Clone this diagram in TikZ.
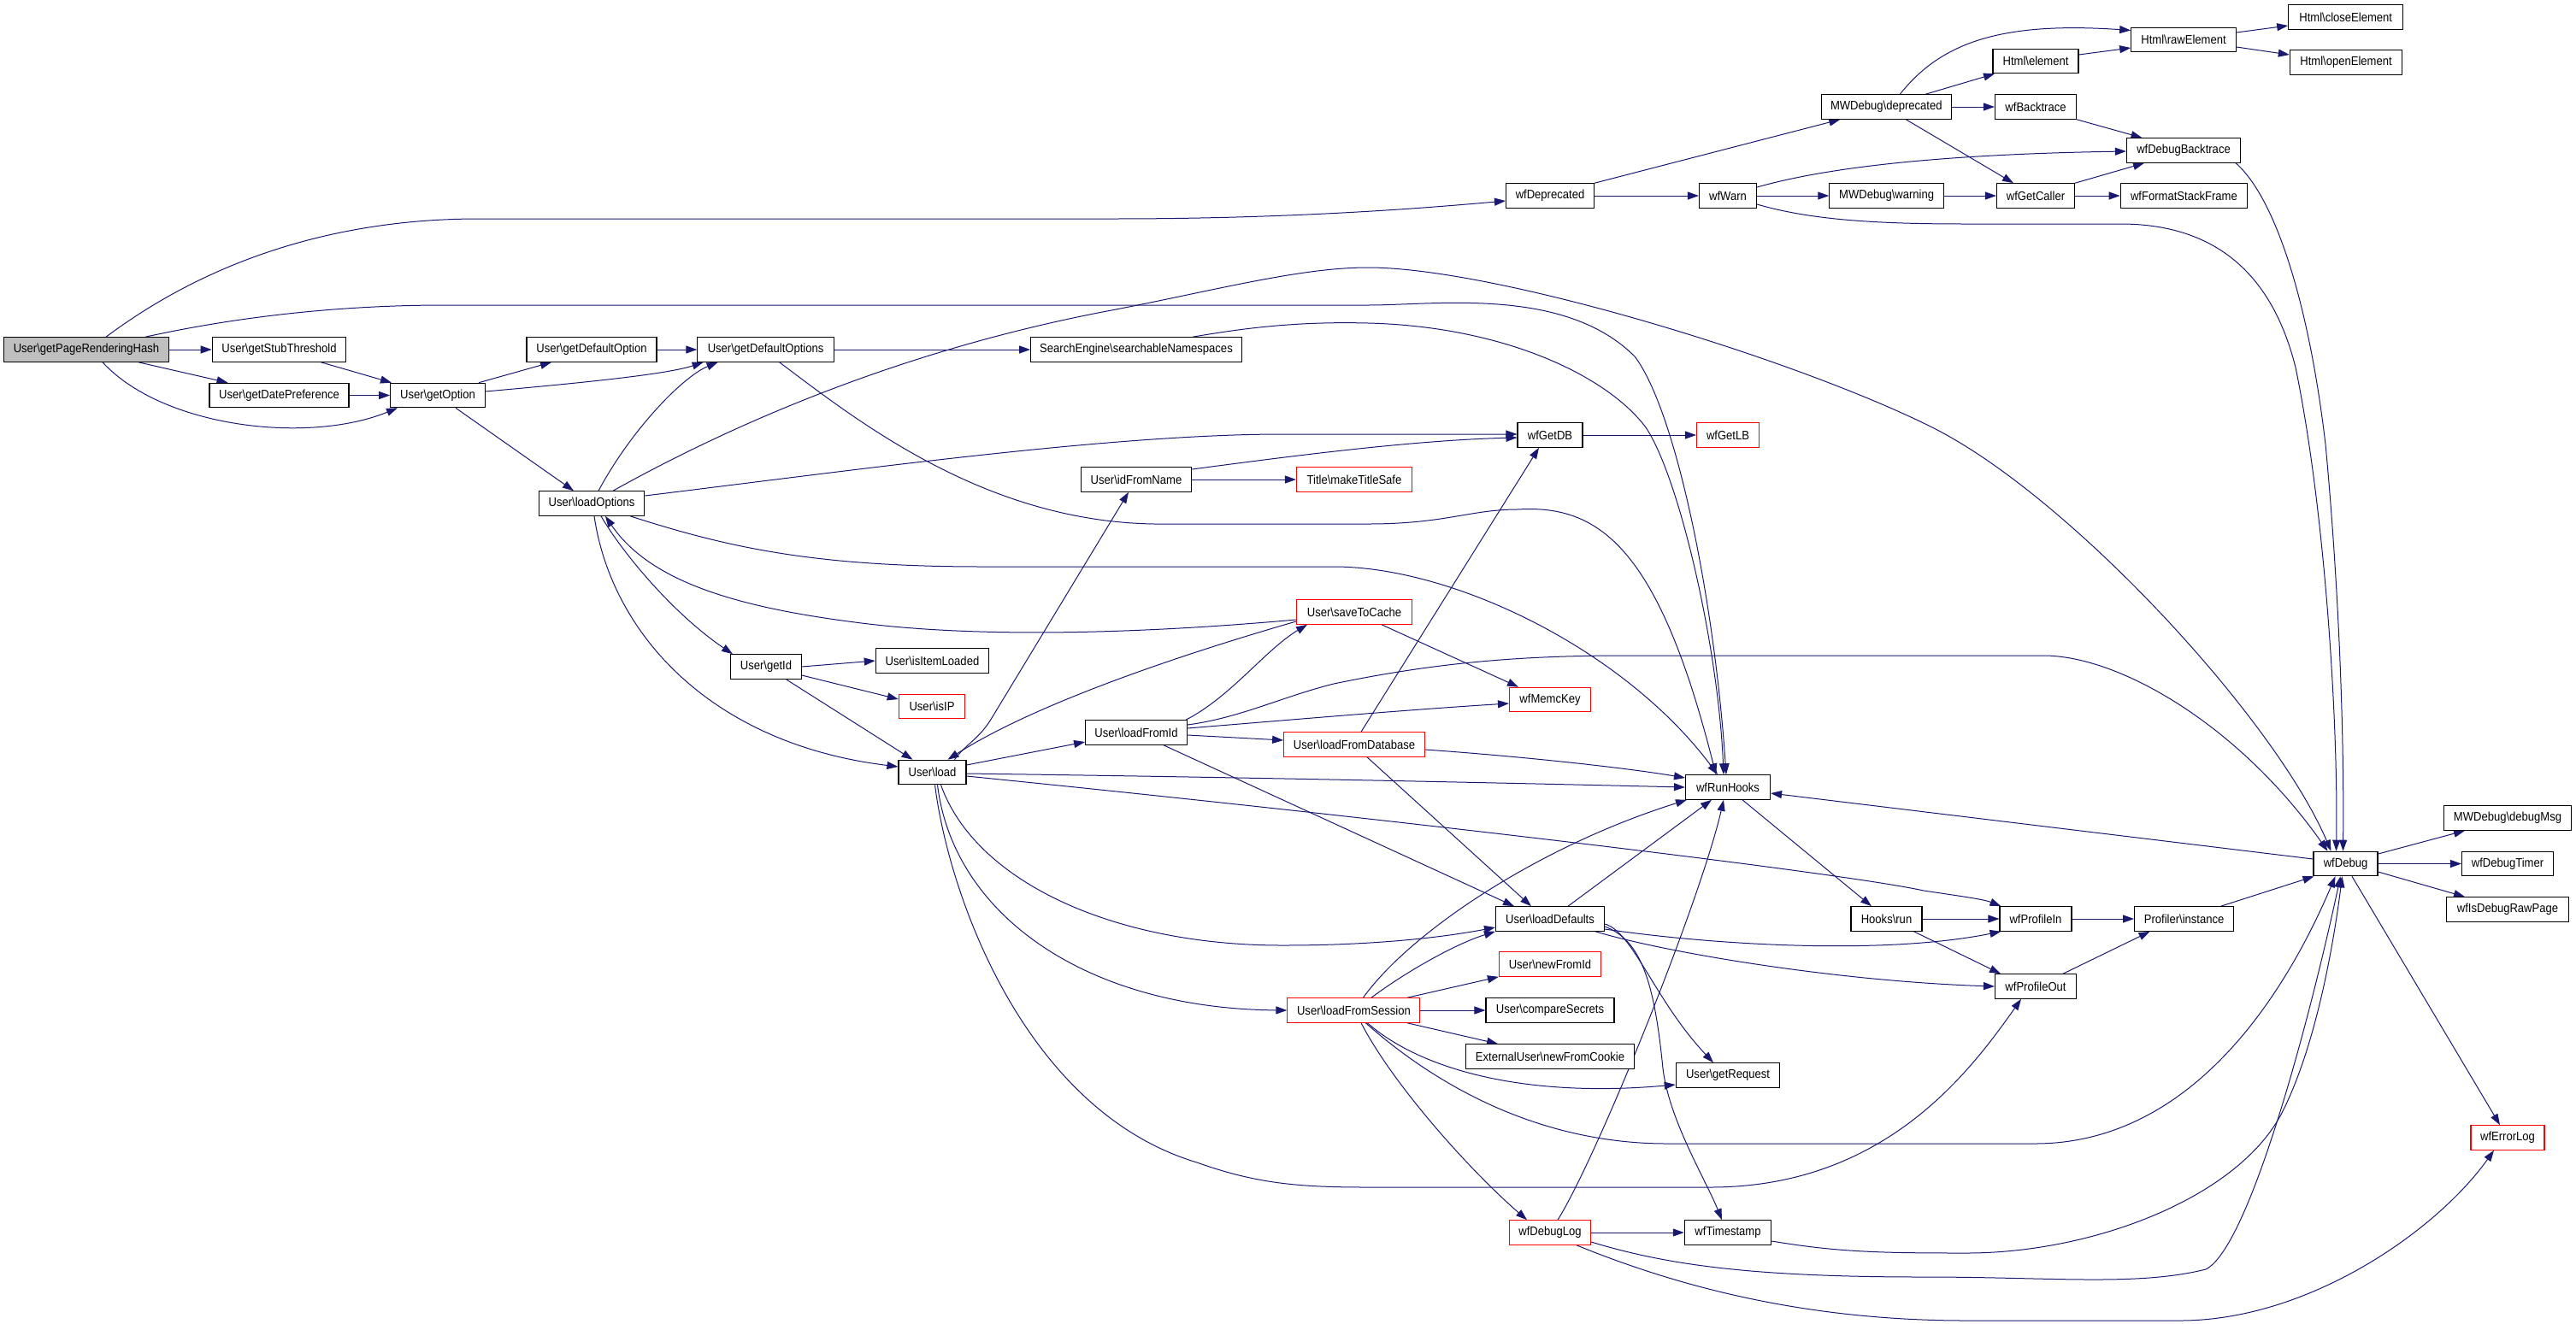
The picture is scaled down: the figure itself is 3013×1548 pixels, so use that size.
\documentclass[tikz,border=0pt]{standalone}
\usepackage{fontspec}
\newfontfamily\dotfont{Liberation Sans}[FakeStretch=0.9]
\usetikzlibrary{arrows.meta,backgrounds}
\definecolor{edgeblue}{HTML}{191970}
\definecolor{rootgray}{HTML}{BFBFBF}
\definecolor{nodered}{HTML}{FF0000}
\newcommand{\BSL}{\textbackslash}
\begin{document}
\begin{tikzpicture}[x=1pt,y=-1pt,
  nd/.style={draw=black, line width=1.1pt, fill=white, minimum height=28.5pt, inner sep=0pt, font={\dotfont\fontsize{14.5pt}{17pt}\selectfont}},
  rd/.style={nd, draw=nodered},
  ed/.style={draw=edgeblue, line width=1pt, -{Triangle[length=13pt,width=9pt]}}]
\useasboundingbox (0,0) rectangle (3013,1548);
% nodes
\node[nd, fill=rootgray, minimum width=192.5pt] (gprh) at (101,409) {User\BSL getPageRenderingHash};
\node[nd, minimum width=156.5pt] (gst) at (326.5,409) {User\BSL getStubThreshold};
\node[nd, minimum width=163pt] (gdp) at (326.5,462.5) {User\BSL getDatePreference};
\node[nd, minimum width=110.5pt] (gopt) at (512,462.5) {User\BSL getOption};
\node[nd, minimum width=152pt] (gdo) at (692,409) {User\BSL getDefaultOption};
\node[nd, minimum width=159.5pt] (gdos) at (895.6,409) {User\BSL getDefaultOptions};
\node[nd, minimum width=246.7pt] (sns) at (1329,409) {SearchEngine\BSL searchableNamespaces};
\node[nd, minimum width=103pt] (wfdep) at (1813,229) {wfDeprecated};
\node[nd, minimum width=67pt] (wfwarn) at (2021,229) {wfWarn};
\node[nd, minimum width=152.5pt] (mwdep) at (2206.3,125) {MWDebug\BSL deprecated};
\node[nd, minimum width=133.6pt] (mwwarn) at (2206.6,229) {MWDebug\BSL warning};
\node[nd, minimum width=76pt] (wfgetdb) at (1813,509) {wfGetDB};
\node[rd, minimum width=73pt] (wfgetlb) at (2021,509) {wfGetLB};
\node[nd, minimum width=134pt] (close) at (2743.7,20) {Html\BSL closeElement};
\node[nd, minimum width=122.6pt] (raw) at (2554,46.5) {Html\BSL rawElement};
\node[nd, minimum width=131.4pt] (open) at (2744,73) {Html\BSL openElement};
\node[nd, minimum width=100pt] (elem) at (2381,71.5) {Html\BSL element};
\node[nd, minimum width=95pt] (wfbt) at (2381,125) {wfBacktrace};
\node[nd, minimum width=133.3pt] (wfdbt) at (2554,176) {wfDebugBacktrace};
\node[nd, minimum width=91pt] (wfgc) at (2381,229) {wfGetCaller};
\node[nd, minimum width=148.4pt] (wffsf) at (2554.4,229) {wfFormatStackFrame};
\node[nd, minimum width=123.6pt] (lopt) at (692,589) {User\BSL loadOptions};
\node[nd, minimum width=129.4pt] (idfn) at (1329,561) {User\BSL idFromName};
\node[nd, minimum width=82.4pt] (getid) at (896,780) {User\BSL getId};
\node[nd, minimum width=132.4pt] (isil) at (1090.5,773) {User\BSL isItemLoaded};
\node[rd, minimum width=77.5pt] (isip) at (1090,826.5) {User\BSL isIP};
\node[nd, minimum width=79pt] (load) at (1090.5,903.5) {User\BSL load};
\node[nd, minimum width=118.8pt] (lfid) at (1329,857) {User\BSL loadFromId};
\node[rd, minimum width=135pt] (mts) at (1584,561) {Title\BSL makeTitleSafe};
\node[rd, minimum width=135pt] (stc) at (1584,716) {User\BSL saveToCache};
\node[rd, minimum width=95pt] (memc) at (1813,818.5) {wfMemcKey};
\node[rd, minimum width=164.7pt] (lfdb) at (1584,871) {User\BSL loadFromDatabase};
\node[nd, minimum width=99pt] (runh) at (2021,921) {wfRunHooks};
\node[nd, minimum width=149pt] (dmsg) at (2933,957) {MWDebug\BSL debugMsg};
\node[nd, minimum width=75pt] (wfdebug) at (2743.5,1010.5) {wfDebug};
\node[nd, minimum width=107pt] (wfdt) at (2933,1010.5) {wfDebugTimer};
\node[nd, minimum width=127pt] (ldef) at (1813,1075) {User\BSL loadDefaults};
\node[nd, minimum width=83pt] (hrun) at (2206.5,1075) {Hooks\BSL run};
\node[rd, minimum width=119.2pt] (nfid) at (1813,1128) {User\BSL newFromId};
\node[rd, minimum width=155pt] (lfs) at (1583.4,1182) {User\BSL loadFromSession};
\node[nd, minimum width=150pt] (cs) at (1813,1182) {User\BSL compareSecrets};
\node[nd, minimum width=197pt] (nfc) at (1813,1236) {ExternalUser\BSL newFromCookie};
\node[nd, minimum width=121.6pt] (greq) at (2021,1258) {User\BSL getRequest};
\node[rd, minimum width=95pt] (wfdl) at (1813,1442) {wfDebugLog};
\node[nd, minimum width=101.4pt] (wfts) at (2021,1442) {wfTimestamp};
\node[nd, minimum width=84pt] (wfpi) at (2381,1075) {wfProfileIn};
\node[nd, minimum width=116pt] (prof) at (2554.6,1075) {Profiler\BSL instance};
\node[nd, minimum width=143pt] (wfidrp) at (2933,1064) {wfIsDebugRawPage};
\node[nd, minimum width=95pt] (wfpo) at (2381,1154) {wfProfileOut};
\node[rd, minimum width=86pt] (wfel) at (2933,1331) {wfErrorLog};
% edges
\begin{scope}[on background layer]
\draw[ed] (gprh.east) -- (gst.west);
\draw[ed] ([xshift=61pt]gprh.south) -- ([xshift=-60pt]gdp.north);
\draw[ed] ([xshift=19pt]gprh.south) .. controls (190,500) and (360,520) .. ([xshift=-47pt]gopt.south);
\draw[ed] ([xshift=23pt]gprh.north) .. controls (250,300) and (400,256) .. (560,256) -- (1300,256) .. controls (1500,256) and (1650,245) .. ([yshift=-6pt]wfdep.west);
\draw[ed] ([xshift=69pt]gprh.north) .. controls (280,370) and (400,357) .. (520,357) -- (1600,357) .. controls (1680,357) and (1830,335) .. (1912,417) .. controls (1960,480) and (2005,700) .. ([xshift=-2pt]runh.north);
\draw[ed] ([xshift=66pt]sns.north) .. controls (1460,383) and (1520,376) .. (1600,378) .. controls (1760,382) and (1880,440) .. (1925,500) .. controls (1965,560) and (2010,760) .. ([xshift=-5pt]runh.north);
\draw[ed] ([xshift=49pt]gst.south) -- ([xshift=-54pt]gopt.north);
\draw[ed] (gdp.east) -- (gopt.west);
\draw[ed] ([xshift=48pt]gopt.north) -- ([xshift=-47pt]gdo.south);
\draw[ed] ([yshift=4.5pt]gopt.east) .. controls (680,448) and (780,438) .. ([xshift=-73pt]gdos.south);
\draw[ed] ([xshift=21pt]gopt.south) -- ([xshift=-21pt]lopt.north);
\draw[ed] (gdo.east) -- (gdos.west);
\draw[ed] (gdos.east) -- (sns.west);
\draw[ed] ([xshift=16pt]gdos.south) .. controls (1000,490) and (1150,610) .. (1350,613) -- (1600,613) .. controls (1690,613) and (1720,596) .. (1775,596) .. controls (1870,590) and (1940,640) .. ([xshift=-14pt]runh.north);
\draw[ed] ([xshift=8pt]lopt.north) .. controls (740,500) and (800,440) .. ([xshift=-56pt]gdos.south);
\draw[ed] ([xshift=25pt]lopt.north) .. controls (850,500) and (1050,410) .. (1300,363) .. controls (1420,340) and (1520,313) .. (1600,313) .. controls (1750,313) and (2100,420) .. (2260,500) .. controls (2420,580) and (2660,840) .. ([xshift=-17pt]wfdebug.north);
\draw[ed] ([yshift=9pt]lopt.east) .. controls (1000,550) and (1300,508) .. (1500,508) -- ([yshift=1pt]wfgetdb.west);
\draw[ed] ([xshift=45pt]lopt.south) .. controls (850,640) and (950,663) .. (1150,663) -- (1560,663) .. controls (1700,663) and (1900,760) .. ([xshift=-12pt]runh.north);
\draw[ed] ([xshift=11pt]lopt.south) .. controls (730,650) and (790,720) .. ([xshift=-39pt]getid.north);
\draw[ed] ([xshift=3pt]lopt.south) .. controls (715,740) and (830,870) .. ([yshift=6.5pt]load.west);
\draw[ed] ([yshift=-9pt]stc.west) .. controls (1350,740) and (1150,748) .. (1000,728) .. controls (860,710) and (760,680) .. ([xshift=16pt]lopt.south);
\draw[ed] (getid.east) -- (isil.west);
\draw[ed] ([yshift=-10pt]getid.east) -- ([yshift=8.5pt]isip.west);
\draw[ed] ([xshift=23.5pt]getid.south) -- ([xshift=-23pt]load.north);
\draw[ed] ([xshift=26pt]load.north) .. controls (1130,870) and (1145,865) .. (1160,840) -- ([xshift=-9pt]idfn.south);
\draw[ed] ([yshift=-11pt]stc.west) .. controls (1350,775) and (1200,830) .. ([xshift=18pt]load.north);
\draw[ed] ([xshift=58pt]lfid.north) .. controls (1440,815) and (1480,760) .. ([xshift=-55pt]stc.south);
\draw[ed] ([yshift=9pt]lfid.east) .. controls (1450,840) and (1500,815) .. (1560,800) .. controls (1680,775) and (1780,767) .. (1900,767) -- (2390,767) .. controls (2480,767) and (2620,850) .. ([xshift=-21pt]wfdebug.north);
\draw[ed] ([yshift=5pt]lfid.east) .. controls (1500,843) and (1650,830) .. ([yshift=-4.5pt]memc.west);
\draw[ed] ([yshift=-3pt]lfid.east) -- ([yshift=5pt]lfdb.west);
\draw[ed] ([xshift=32pt]lfid.south) -- ([xshift=-42pt]ldef.north);
\draw[ed] ([xshift=15pt]lfdb.south) -- ([xshift=-22pt]ldef.north);
\draw[ed] ([xshift=8pt]lfdb.north) -- ([xshift=-13pt]wfgetdb.south);
\draw[ed] ([yshift=-6pt]lfdb.east) .. controls (1780,885) and (1900,898) .. ([yshift=11pt]runh.west);
\draw[ed] ([xshift=32pt]stc.south) -- ([xshift=-37pt]memc.north);
\draw[ed] (idfn.east) -- (mts.west);
\draw[ed] ([yshift=12pt]idfn.east) .. controls (1500,535) and (1650,515) .. ([yshift=-3pt]wfgetdb.west);
\draw[ed] (wfgetdb.east) -- (wfgetlb.west);
\draw[ed] ([yshift=8.5pt]load.east) -- ([yshift=-11pt]lfid.west);
\draw[ed] ([yshift=-1.5pt]load.east) .. controls (1500,910) and (1800,917) .. (runh.west);
\draw[ed] ([yshift=-4.5pt]load.east) .. controls (1600,955) and (2150,1020) .. (2250,1042) .. controls (2290,1048) and (2320,1052) .. ([xshift=2pt]wfpi.north west);
\draw[ed] ([xshift=3pt]load.south) .. controls (1110,1050) and (1200,1300) .. (1400,1360) .. controls (1470,1385) and (1520,1389) .. (1600,1389) -- (2000,1389) .. controls (2200,1389) and (2300,1260) .. ([xshift=-17pt]wfpo.south);
\draw[ed] ([xshift=6pt]load.south) .. controls (1115,1070) and (1270,1180) .. (lfs.west);
\draw[ed] ([xshift=10pt]load.south) .. controls (1140,1030) and (1300,1106) .. (1500,1106) .. controls (1600,1106) and (1680,1098) .. ([yshift=-10pt]ldef.west);
\draw[ed] ([yshift=5.5pt]wfdebug.west) -- ([yshift=-7pt]runh.east);
\draw[ed] ([xshift=17pt]runh.south) -- ([xshift=-17.5pt]hrun.north);
\draw[ed] (hrun.east) -- (wfpi.west);
\draw[ed] ([xshift=32pt]hrun.south) -- ([xshift=-41pt]wfpo.north);
\draw[ed] ([yshift=-12pt]ldef.east) .. controls (2000,1105) and (2200,1118) .. ([xshift=2pt]wfpi.south west);
\draw[ed] ([xshift=53pt]ldef.south) .. controls (1950,1115) and (2150,1148) .. (wfpo.west);
\draw[ed] ([xshift=21pt]ldef.north) -- ([xshift=-19pt]runh.south);
\draw[ed] ([yshift=-6pt]ldef.east) .. controls (1910,1090) and (1935,1170) .. ([xshift=-17pt]greq.north);
\draw[ed] ([yshift=-9pt]ldef.east) .. controls (1920,1100) and (1935,1150) .. (1945,1250) .. controls (1952,1310) and (1995,1380) .. ([xshift=-7pt]wfts.north);
\draw[ed] ([xshift=11pt]lfs.north) .. controls (1650,1090) and (1800,990) .. ([xshift=2pt]runh.south west);
\draw[ed] ([xshift=20.6pt]lfs.north) .. controls (1640,1140) and (1700,1105) .. (ldef.south west);
\draw[ed] ([xshift=62.6pt]lfs.north) -- (nfid.south west);
\draw[ed] (lfs.east) -- (cs.west);
\draw[ed] ([xshift=62.6pt]lfs.south) -- ([xshift=-61pt]nfc.north);
\draw[ed] ([xshift=16pt]lfs.south) .. controls (1660,1250) and (1780,1285) .. ([yshift=-11pt]greq.west);
\draw[ed] ([xshift=14pt]lfs.south) .. controls (1680,1270) and (1800,1338) .. (1950,1338) -- (2380,1338) .. controls (2560,1338) and (2670,1170) .. ([xshift=-12pt]wfdebug.south);
\draw[ed] ([xshift=8.6pt]lfs.south) .. controls (1630,1270) and (1720,1370) .. ([xshift=-27pt]wfdl.north);
\draw[ed] ([xshift=9pt]wfdl.north) .. controls (1870,1350) and (1990,1050) .. ([xshift=-5pt]runh.south);
\draw[ed] (wfdl.east) -- (wfts.west);
\draw[ed] ([yshift=-11pt]wfdl.east) .. controls (1950,1480) and (2050,1494) .. (2250,1494) .. controls (2400,1494) and (2500,1505) .. (2580,1485) .. controls (2630,1460) and (2700,1200) .. ([xshift=-6pt]wfdebug.south);
\draw[ed] ([yshift=-10pt]wfts.east) .. controls (2150,1465) and (2200,1466) .. (2300,1466) .. controls (2450,1466) and (2620,1400) .. (2670,1300) .. controls (2710,1220) and (2730,1100) .. ([xshift=-4pt]wfdebug.south);
\draw[ed] ([xshift=31pt]wfdl.south) .. controls (1950,1500) and (2100,1545) .. (2300,1545) -- (2550,1545) .. controls (2700,1545) and (2850,1440) .. ([xshift=-16pt]wfel.south);
\draw[ed] (wfpi.east) -- (prof.west);
\draw[ed] ([xshift=32pt]wfpo.north) -- ([xshift=-40pt]prof.south);
\draw[ed] ([xshift=43pt]prof.north) -- ([xshift=1pt]wfdebug.south west);
\draw[ed] ([yshift=11.5pt]wfdebug.east) -- ([xshift=-50pt]dmsg.south);
\draw[ed] (wfdebug.east) -- (wfdt.west);
\draw[ed] ([yshift=-9.5pt]wfdebug.east) -- ([xshift=-50pt]wfidrp.north);
\draw[ed] ([xshift=7.5pt]wfdebug.south) -- ([xshift=-9pt]wfel.north);
\draw[ed] (wfdep.north east) -- ([xshift=-54pt]mwdep.south);
\draw[ed] (wfdep.east) -- (wfwarn.west);
\draw[ed] (wfwarn.east) -- (mwwarn.west);
\draw[ed] ([yshift=10pt]wfwarn.east) .. controls (2150,192) and (2300,180) .. ([yshift=-1pt]wfdbt.west);
\draw[ed] ([yshift=-10pt]wfwarn.east) .. controls (2120,258) and (2200,262) .. (2300,262) -- (2480,262) .. controls (2600,262) and (2660,330) .. (2685,430) .. controls (2720,600) and (2735,850) .. ([xshift=-11pt]wfdebug.north);
\draw[ed] ([xshift=61pt]wfdbt.south) .. controls (2660,230) and (2700,350) .. (2720,520) .. controls (2735,680) and (2742,850) .. ([xshift=-3pt]wfdebug.north);
\draw[ed] ([xshift=46pt]mwdep.north) -- ([xshift=-48pt]elem.south);
\draw[ed] ([xshift=16pt]mwdep.north) .. controls (2270,50) and (2340,25) .. ([yshift=11pt]raw.west);
\draw[ed] (mwdep.east) -- (wfbt.west);
\draw[ed] ([xshift=23pt]mwdep.south) -- ([xshift=-26pt]wfgc.north);
\draw[ed] (mwwarn.east) -- (wfgc.west);
\draw[ed] ([yshift=7.5pt]elem.east) -- ([yshift=-9.5pt]raw.west);
\draw[ed] ([yshift=8.5pt]raw.east) -- ([yshift=-10pt]close.west);
\draw[ed] ([yshift=-8.5pt]raw.east) -- ([yshift=9pt]open.west);
\draw[ed] (wfbt.south east) -- ([xshift=-48.5pt]wfdbt.north);
\draw[ed] (wfgc.north east) -- ([xshift=-46pt]wfdbt.south);
\draw[ed] (wfgc.east) -- (wffsf.west);
\end{scope}
\end{tikzpicture}
\end{document}
